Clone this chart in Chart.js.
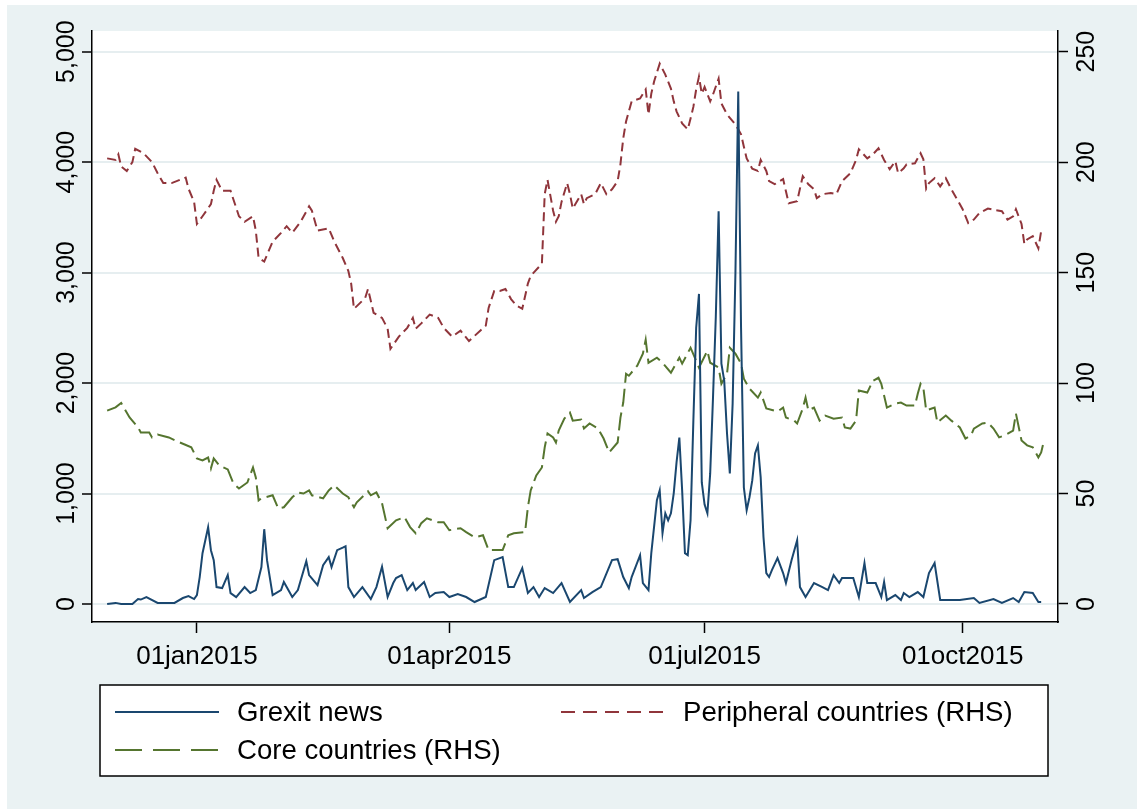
<!DOCTYPE html>
<html lang="en">
<head>
<meta charset="UTF-8">
<title>Grexit news</title>
<style>
  body { margin: 0; background: #fff; }
  canvas { display: block; }
</style>
</head>
<body>
<canvas id="grafico" width="1137" height="809"></canvas>
<script src="https://cdn.jsdelivr.net/npm/chart.js/dist/chart.umd.min.js"></script>
<script>
// days counted from 01jan2015 (negative = December 2014)
const grexitDays = [-32, -29, -27, -23, -21, -20, -18, -14, -8, -5, -3, -1, 0, 1, 2, 4, 5, 6, 7, 9, 11, 12, 14, 17, 19, 21, 23, 24, 25, 27, 30, 31, 34, 36, 39, 40, 43, 45, 47, 48, 50, 52, 53, 54, 56, 59, 62, 64, 66, 68, 70, 71, 73, 75, 77, 78, 81, 83, 85, 88, 90, 93, 96, 99, 103, 106, 109, 111, 113, 116, 118, 120, 122, 124, 127, 130, 133, 137, 138, 141, 144, 148, 150, 152, 154, 155, 158, 159, 161, 162, 164, 165, 166, 167, 168, 169, 170, 171, 172, 173, 174, 175, 176, 177, 178, 179, 180, 181, 182, 183, 184, 185, 186, 187, 188, 189, 190, 191, 192, 193, 194, 195, 196, 197, 198, 199, 200, 201, 202, 203, 204, 205, 207, 209, 210, 212, 214, 215, 217, 220, 223, 225, 227, 229, 230, 234, 236, 238, 239, 242, 244, 245, 246, 249, 251, 252, 254, 257, 259, 261, 263, 265, 268, 272, 277, 279, 284, 287, 291, 293, 295, 298, 300, 301];
const grexitNews = [0, 10, 0, 0, 45, 40, 63, 10, 10, 54, 72, 45, 81, 244, 460, 695, 487, 397, 153, 144, 262, 99, 63, 153, 99, 126, 334, 677, 397, 81, 126, 199, 63, 126, 388, 262, 171, 352, 424, 334, 487, 510, 523, 153, 63, 153, 45, 153, 338, 63, 190, 235, 262, 126, 190, 126, 199, 63, 99, 108, 63, 90, 63, 18, 63, 397, 424, 153, 153, 325, 99, 153, 63, 144, 99, 190, 18, 126, 54, 108, 153, 397, 406, 244, 144, 244, 442, 190, 126, 460, 939, 1029, 641, 821, 758, 821, 1002, 1282, 1507, 1029, 460, 442, 758, 1660, 2500, 2807, 1100, 900, 821, 1182, 1868, 2600, 3556, 2175, 2022, 1543, 1182, 1814, 3000, 4640, 2500, 1056, 848, 966, 1119, 1363, 1435, 1146, 605, 280, 244, 307, 415, 280, 190, 397, 578, 153, 63, 190, 153, 126, 262, 190, 235, 235, 63, 370, 190, 190, 63, 199, 36, 81, 36, 99, 63, 108, 63, 280, 370, 36, 36, 36, 54, 9, 45, 9, 54, 18, 108, 99, 18, 18];

const peripheralDays = [-32, -29, -28, -27, -25, -23, -22, -19, -16, -14, -12, -9, -4, -3, -1, 0, 2, 5, 6, 7, 9, 12, 15, 17, 20, 21, 22, 24, 27, 30, 32, 34, 37, 40, 41, 43, 47, 49, 52, 54, 55, 56, 60, 61, 63, 66, 68, 69, 72, 75, 77, 78, 80, 83, 86, 88, 91, 94, 97, 101, 103, 104, 106, 108, 110, 112, 114, 116, 118, 119, 123, 124, 125, 127, 128, 129, 130, 132, 133, 134, 137, 138, 139, 142, 144, 146, 148, 150, 151, 152, 153, 154, 155, 158, 160, 161, 162, 163, 165, 167, 169, 170, 171, 173, 175, 176, 177, 178, 179, 180, 181, 183, 184, 186, 187, 189, 192, 194, 195, 196, 198, 200, 201, 203, 204, 206, 209, 210, 211, 214, 215, 216, 218, 220, 221, 223, 226, 228, 230, 233, 235, 236, 239, 241, 243, 245, 247, 249, 250, 252, 253, 256, 258, 259, 260, 261, 263, 265, 267, 269, 271, 273, 275, 277, 279, 282, 285, 287, 289, 291, 292, 294, 295, 296, 298, 300, 301];
const peripheralValues = [201.7, 201, 203.5, 198, 196, 200, 206, 204, 200, 195, 190.5, 190.5, 193, 188, 182, 172, 175.5, 181, 187, 192, 187, 187, 175.5, 173, 175.5, 169, 156.6, 155, 164, 168, 171, 168, 173, 180, 178, 169, 170, 164, 156.6, 150.7, 145, 133.6, 138.5, 142.6, 131.8, 129.5, 124.6, 115.5, 121, 125, 129.5, 124.6, 127, 131, 129.5, 125, 121, 123.7, 119, 123.7, 126, 134, 141.7, 141.7, 142.6, 138, 135, 133.6, 145, 148.5, 154, 185.5, 192, 178, 173, 175.5, 182, 190.5, 185.5, 179, 185.5, 181, 183.7, 185.5, 190.5, 185.5, 187.7, 191.4, 199, 210.8, 218.4, 223, 227.5, 228.8, 232.9, 221.6, 231, 236.5, 244.6, 239.6, 233.3, 227.5, 223, 217.5, 214.8, 219.8, 225, 232.9, 238.7, 231, 234, 227.5, 230.6, 237.8, 226.5, 221.6, 217, 212.6, 207, 201.7, 197, 196, 201, 196, 191.4, 190, 192.3, 186.8, 181.4, 182.3, 188, 193.6, 190, 187.7, 183.7, 185.5, 186, 185.5, 191.4, 195, 201, 205.8, 201.7, 203.5, 206.3, 201, 196.8, 200.4, 195, 197.2, 199, 199.5, 204, 201.3, 188, 190.5, 192.7, 189, 192.7, 187.7, 183.2, 178.7, 172.4, 174, 177, 179, 178.2, 177.8, 174, 175.5, 178.7, 172, 163, 165, 166.5, 161, 168.8];

const coreDays = [-32, -29, -27, -24, -21, -20, -17, -16, -14, -10, -7, -2, 0, 2, 4, 5, 6, 8, 11, 13, 15, 18, 20, 21, 22, 23, 27, 29, 31, 34, 36, 38, 40, 41, 45, 47, 49, 52, 54, 56, 57, 61, 62, 64, 66, 68, 71, 74, 76, 78, 80, 82, 86, 88, 90, 94, 96, 99, 102, 104, 106, 109, 111, 113, 117, 118, 119, 121, 123, 124, 125, 127, 128, 129, 131, 133, 134, 137, 138, 140, 143, 145, 147, 150, 151, 152, 153, 154, 157, 159, 160, 161, 164, 166, 169, 172, 173, 176, 178, 179, 182, 183, 186, 187, 189, 190, 192, 194, 195, 197, 200, 201, 203, 207, 209, 210, 213, 214, 216, 217, 218, 220, 222, 224, 227, 230, 231, 233, 235, 236, 239, 241, 243, 244, 246, 249, 251, 253, 256, 257, 258, 259, 260, 262, 263, 264, 267, 269, 272, 274, 276, 277, 280, 282, 284, 286, 288, 291, 292, 294, 296, 298, 300, 301, 302];
const coreValues = [87.5, 89, 91, 84.4, 80, 77.6, 77.6, 75.4, 76.7, 75.4, 73.6, 70.9, 65.9, 65, 66.3, 61.4, 65.9, 62.7, 60.9, 54.6, 52.3, 55, 61.8, 57.3, 46.9, 47.8, 49.2, 43.3, 43.8, 48.3, 50.5, 50, 51.4, 49.2, 47.8, 51.4, 53.7, 50, 48.3, 43.8, 46, 51, 49.2, 50.5, 45.6, 34.3, 37.9, 39.3, 34.8, 32, 36.6, 38.8, 37, 37, 33.4, 34.3, 32.5, 30.2, 31.1, 24.4, 24.4, 24.4, 31.1, 32, 32.5, 43.8, 51.4, 58.2, 61.8, 70.9, 77.2, 75.4, 73.1, 78.5, 83.9, 86.6, 83, 83.5, 79.4, 81.7, 79.4, 74.9, 68.6, 73.1, 84.4, 91.2, 104.2, 103.3, 107.9, 113.3, 119.6, 109.2, 111.5, 109.2, 104.7, 111.5, 108.8, 116, 110, 107, 114.6, 109.2, 107, 99.7, 104.2, 116, 113.3, 108.8, 102, 97.5, 93.4, 95.7, 88.5, 87.1, 88.9, 84.4, 83, 81.7, 88.5, 93.4, 87.6, 88.9, 83, 85.3, 83.9, 84.4, 79.9, 79.4, 83, 96.6, 95.7, 101, 102.4, 99.7, 88.9, 90.7, 91.2, 89.8, 89.8, 95.2, 99.7, 97.9, 87.6, 88.5, 88.9, 82.1, 85.3, 83, 79.9, 74.9, 76.3, 79.4, 81.7, 82.1, 79.4, 75.4, 76.3, 78.5, 86.2, 74, 71.8, 70.9, 66.3, 68.6, 74];

const leftTicks = [0, 1000, 2000, 3000, 4000, 5000];
const rightTicks = [0, 50, 100, 150, 200, 250];
const dateTicks = [0, 90, 181, 273];
const dateLabels = ['01jan2015', '01apr2015', '01jul2015', '01oct2015'];

function pares(dias, valores) {
    return dias.map((d, i) => ({ x: d, y: valores[i] }));
}

const fonte = '"Liberation Sans", Arial, sans-serif';
Chart.defaults.font.family = fonte;
Chart.defaults.color = '#000';

// fundo do gráfico (estilo Stata)
const fundo = {
    id: 'fundo',
    beforeDraw(chart) {
        const ctx = chart.ctx;
        const a = chart.chartArea;
        ctx.save();
        ctx.fillStyle = '#ffffff';
        ctx.fillRect(0, 0, chart.width, chart.height);
        ctx.fillStyle = '#eaf2f3';
        ctx.fillRect(7, 5, chart.width - 7, chart.height - 5);
        ctx.fillStyle = '#ffffff';
        ctx.fillRect(a.left, a.top, a.right - a.left, a.bottom - a.top);
        ctx.restore();
    }
};

// legenda em caixa, duas colunas
const legendaCaixa = {
    id: 'legendaCaixa',
    afterDraw(chart) {
        const ctx = chart.ctx;
        const ds = chart.data.datasets;
        const itens = [
            { d: ds[0], x: 115, y: 712 },
            { d: ds[1], x: 561, y: 712 },
            { d: ds[2], x: 115, y: 750 }
        ];
        ctx.save();
        ctx.fillStyle = '#ffffff';
        ctx.fillRect(100, 685, 948, 91);
        ctx.strokeStyle = '#000';
        ctx.lineWidth = 1.5;
        ctx.strokeRect(100, 685, 948, 91);
        ctx.font = '27.6px ' + fonte;
        ctx.textBaseline = 'middle';
        itens.forEach((it) => {
            ctx.beginPath();
            ctx.setLineDash(it.d.legendDash || []);
            ctx.strokeStyle = it.d.borderColor;
            ctx.lineWidth = 2;
            ctx.moveTo(it.x, it.y);
            ctx.lineTo(it.x + 104, it.y);
            ctx.stroke();
            ctx.setLineDash([]);
            ctx.fillStyle = '#000';
            ctx.fillText(it.d.label, it.x + 122, it.y + 1);
        });
        ctx.restore();
    }
};

new Chart(document.getElementById('grafico'), {
    type: 'line',
    data: {
        datasets: [{
            label: 'Grexit news',
            data: pares(grexitDays, grexitNews),
            yAxisID: 'y',
            borderColor: '#1a476f',
            borderWidth: 2,
            pointRadius: 0,
            tension: 0
        }, {
            label: 'Peripheral countries (RHS)',
            data: pares(peripheralDays, peripheralValues),
            yAxisID: 'y1',
            borderColor: '#90353b',
            borderWidth: 2,
            borderDash: [9, 5],
            legendDash: [14, 8],
            pointRadius: 0,
            tension: 0
        }, {
            label: 'Core countries (RHS)',
            data: pares(coreDays, coreValues),
            yAxisID: 'y1',
            borderColor: '#55752f',
            borderWidth: 2,
            borderDash: [18, 6],
            legendDash: [27, 11],
            pointRadius: 0,
            tension: 0
        }]
    },
    options: {
        responsive: false,
        devicePixelRatio: 1,
        animation: false,
        layout: { padding: { top: 31, left: 0, right: 0, bottom: 0 } },
        plugins: {
            legend: { display: false },
            tooltip: { enabled: false }
        },
        scales: {
            x: {
                type: 'linear',
                min: -37.4,
                max: 307,
                afterBuildTicks: (s) => { s.ticks = dateTicks.map((v) => ({ value: v })); },
                afterFit: (s) => { s.height = 187; },
                ticks: {
                    autoSkip: false,
                    maxRotation: 0,
                    minRotation: 0,
                    padding: 8,
                    font: { size: 26 },
                    callback: (v, i) => dateLabels[i]
                },
                grid: { drawOnChartArea: false, tickLength: 11, tickColor: '#000', tickWidth: 1.5 },
                border: { display: true, color: '#000', width: 1.5 }
            },
            y: {
                position: 'left',
                min: -163,
                max: 5187,
                afterBuildTicks: (s) => { s.ticks = leftTicks.map((v) => ({ value: v })); },
                afterFit: (s) => { s.width = 92; },
                ticks: {
                    minRotation: 90,
                    maxRotation: 90,
                    crossAlign: 'center',
                    padding: -16,
                    font: { size: 25 },
                    callback: (v) => v.toLocaleString('en-US')
                },
                grid: { color: '#e6eef0', lineWidth: 2, tickLength: 10, tickColor: '#000', tickWidth: 1.5 },
                border: { color: '#000', width: 1.5 }
            },
            y1: {
                position: 'right',
                min: -8.15,
                max: 259.35,
                afterBuildTicks: (s) => { s.ticks = rightTicks.map((v) => ({ value: v })); },
                afterFit: (s) => { s.width = 79; },
                ticks: {
                    minRotation: 90,
                    maxRotation: 90,
                    crossAlign: 'center',
                    padding: -2,
                    font: { size: 25 },
                    callback: (v) => String(v)
                },
                grid: { drawOnChartArea: false, tickLength: 10, tickColor: '#000', tickWidth: 1.5 },
                border: { color: '#000', width: 1.5 }
            }
        }
    },
    plugins: [fundo, legendaCaixa]
});
</script>
</body>
</html>
